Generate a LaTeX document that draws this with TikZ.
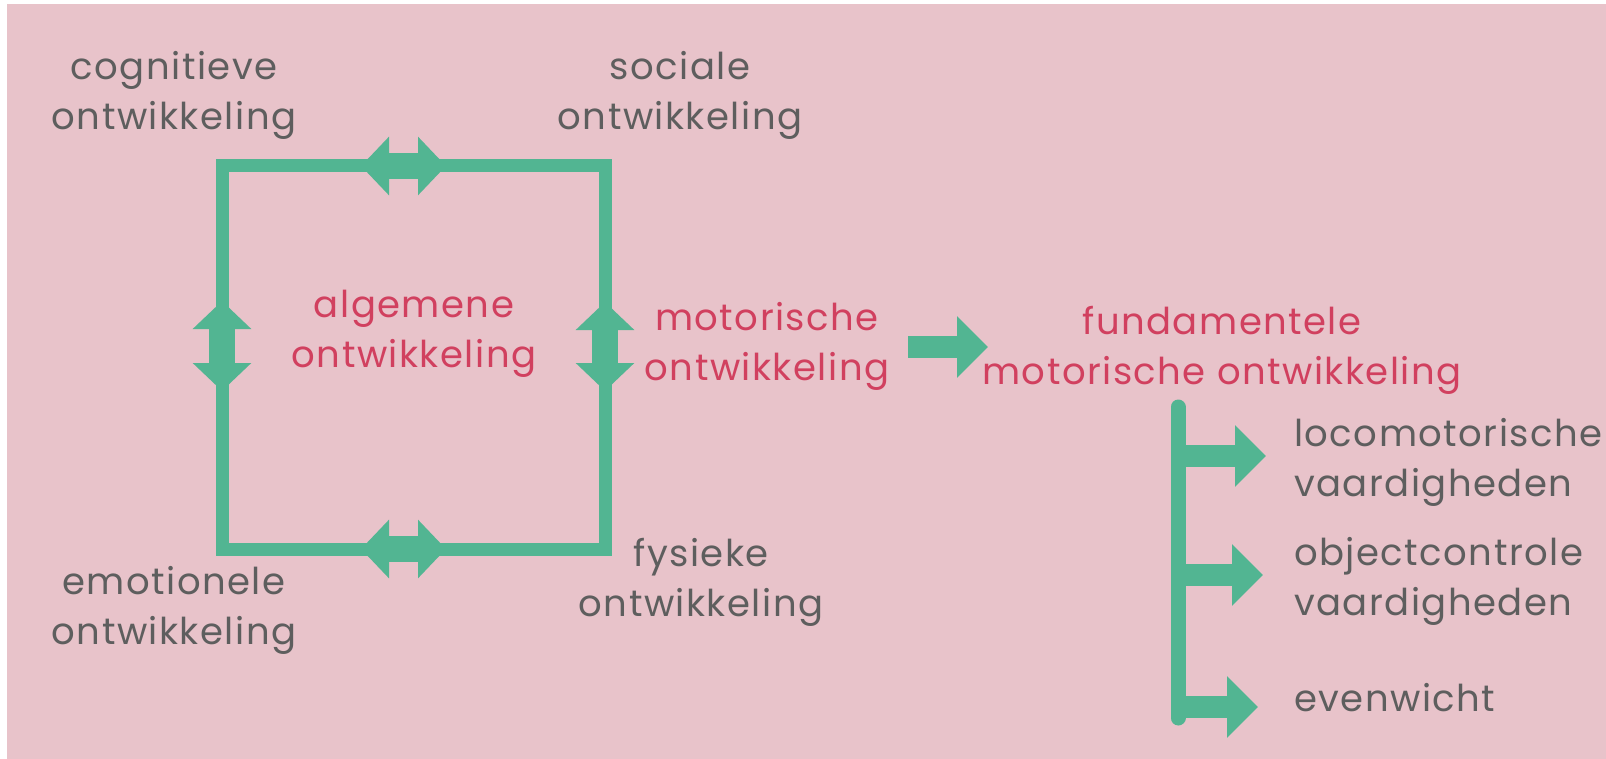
\documentclass[tikz,border=0pt]{standalone}
\usepackage{fontspec}
\setmainfont{Poppins}[LetterSpace=4]
\usetikzlibrary{arrows.meta, positioning, calc}
\definecolor{bgpink}{HTML}{E8C3CA}
\definecolor{leaf}{HTML}{52B592}
\definecolor{inkgrey}{HTML}{5E5E5E}
\definecolor{inkred}{HTML}{D1405F}

\begin{document}
\begin{tikzpicture}[
    x=1pt, y=-1pt,
    lbl/.style={align=center, text=inkgrey, font=\fontsize{37}{50}\selectfont, inner sep=0pt},
    key/.style={lbl, text=inkred},
    edge/.style={draw=leaf, line width=13pt},
    twoway/.style={draw=leaf, line width=26pt, {Triangle[width=57pt,length=28pt]}-{Triangle[width=57pt,length=28pt]}},
    oneway/.style={draw=leaf, line width=22pt, -{Triangle[width=60pt,length=31pt]}}
]
\useasboundingbox (0,0) rectangle (1606,759);
\fill[bgpink] (7,4) rectangle (1606,759);

% the four sides of general development
\coordinate (tl) at (222,166);
\coordinate (tr) at (605,166);
\coordinate (bl) at (222,549);
\coordinate (br) at (605,549);

\node[lbl] (cog) at (174,95) {cognitieve\\ontwikkeling};
\node[lbl] (soc) at (680,95) {sociale\\ontwikkeling};
\node[lbl] (emo) at (174,610) {emotionele\\ontwikkeling};
\node[lbl] (fys) at (701,582) {fysieke\\ontwikkeling};
\node[key] (alg) at (414,334) {algemene\\ontwikkeling};

\draw[edge] (tl) rectangle (br);
\draw[twoway] (361,166) -- (446,166);
\draw[twoway] (361,549) -- (446,549);
\draw[twoway] (222,301) -- (222,391);
\draw[twoway] (605,302) -- (605,391);

% motor development
\node[key] (mot) at (767,346) {motorische\\ontwikkeling};
\node[key] (fun) at (1222,350) {fundamentele\\motorische ontwikkeling};
\draw[oneway] (908,347) -- (988,347);

% fundamental motor skills
\node[lbl, anchor=west, align=left] (loco) at (1294,462) {locomotorische\\vaardigheden};
\node[lbl, anchor=west, align=left] (obj) at (1294,581) {objectcontrole\\vaardigheden};
\node[lbl, anchor=west] (even) at (1294,698) {evenwicht};

\coordinate (stem) at (1178,407);
\coordinate (foot) at (1178,718);
\draw[draw=leaf, line width=15pt, line cap=round] (stem) -- (foot);
\draw[oneway] (1178,456) -- (1266,456);
\draw[oneway] (1178,575) -- (1263,575);
\draw[oneway] (1171,707) -- (1258,707);
\end{tikzpicture}
\end{document}
